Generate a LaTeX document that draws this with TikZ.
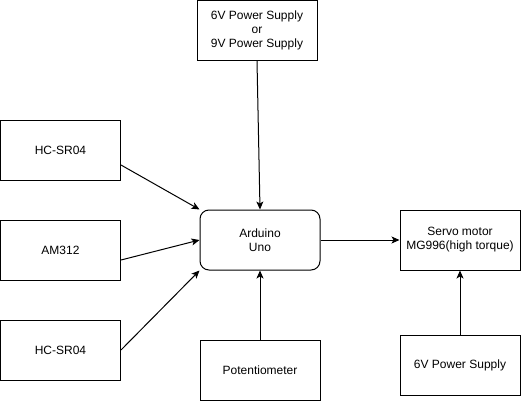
\documentclass[tikz,border=0pt]{standalone}
\usepackage{fontspec}
\setmainfont{Liberation Sans}
\usetikzlibrary{arrows.meta}
\begin{document}
\begin{tikzpicture}[x=1pt,y=-1pt,
  box/.style={draw=black,line width=1pt,fill=white,minimum width=120pt,minimum height=60pt,inner sep=0pt,align=center,font=\fontsize{12}{14}\selectfont},
  rbox/.style={box,rounded corners=9pt},
  conn/.style={line width=1pt,-{Stealth[length=8pt,width=7pt,inset=2pt]}}]
\useasboundingbox (0,0) rectangle (521,401);
\node[box] (ps) at (257,30.5) {6V Power Supply\\or\\9V Power Supply};
\node[box] (hc1) at (60.5,150) {HC-SR04};
\node[box] (am) at (60.5,250) {AM312};
\node[box] (hc2) at (60.5,350) {HC-SR04};
\node[rbox] (ard) at (260,240) {Arduino\\Uno};
\node[box] (servo) at (460,240) {Servo motor\\MG996(high torque)};
\node[box] (pot) at (260,370) {Potentiometer};
\node[box] (ps6) at (460,365) {6V Power Supply};
\draw[conn] (ps.south) -- (ard.north);
\draw[conn] ([yshift=-15pt]hc1.east) -- (ard.north west);
\draw[conn] ([yshift=-10pt]am.east) -- (ard.west);
\draw[conn] (hc2.east) -- (ard.south west);
\draw[conn] (ard.east) -- (servo.west);
\draw[conn] (pot.north) -- (ard.south);
\draw[conn] (ps6.north) -- (servo.south);
\end{tikzpicture}
\end{document}
